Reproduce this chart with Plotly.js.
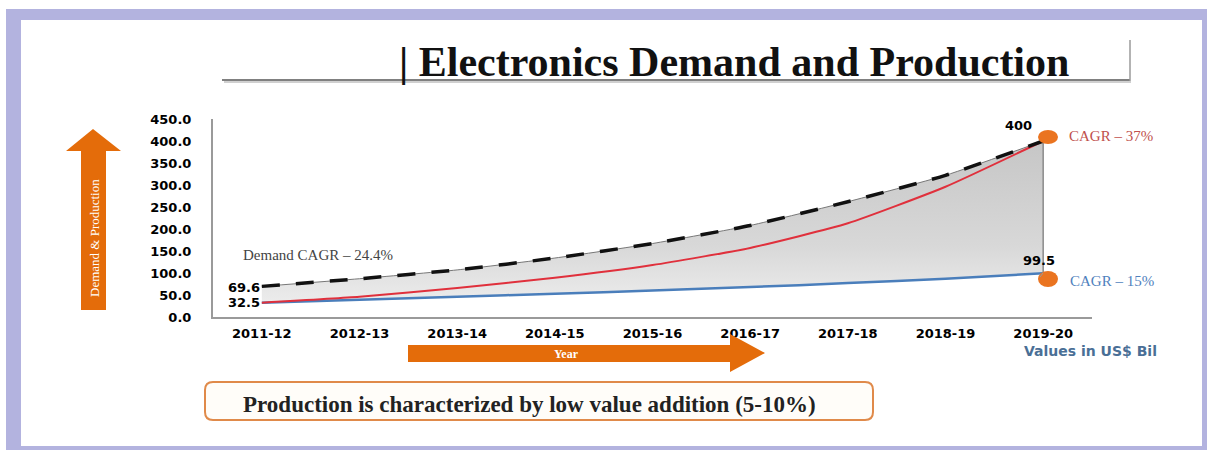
<!DOCTYPE html>
<html>
<head>
<meta charset="utf-8">
<script src="https://cdn.plot.ly/plotly-3.0.1.min.js"></script>
<style>
html,body{margin:0;padding:0;background:#ffffff;}
#chart{width:1207px;height:450px;}
</style>
</head>
<body>
<div id="chart"></div>
<script>
// ---- data (US$ Bil) ----
const years = ['2011-12','2012-13','2013-14','2014-15','2015-16','2016-17','2017-18','2018-19','2019-20'];
const demand = [69.6, 87, 107, 134, 167, 208, 262, 322, 400];
const production = [32.5, 39, 46, 53, 60, 68, 77, 87, 99.5];
const requiredProduction = [32.5, 46, 66, 89, 118, 157, 213, 296, 400];
const yTicks = [0, 50, 100, 150, 200, 250, 300, 350, 400, 450];

const titleText = '| Electronics Demand and Production';
const yAxisText = 'Demand &amp; Production';
const xAxisText = 'Year';
const unitText = 'Values in US$ Bil';
const noteText = 'Production is characterized by low value addition (5-10%)';
const demandCagrText = 'Demand CAGR \u2013 24.4%';
const highCagrText = 'CAGR \u2013 37%';
const lowCagrText = 'CAGR \u2013 15%';

// ---- layout helpers (pixel -> paper) ----
const L = 213, R = 1092, T = 119, B = 317;
const px = v => (v - L) / (R - L);
const py = v => (B - v) / (B - T);
const last = years.length - 1;

const orange = '#e46c0a';
const tickFont = {family: 'DejaVu Sans', size: 13, color: '#000000', weight: 'bold'};

const traces = [
  { // production
    x: years, y: production, type: 'scatter', mode: 'lines',
    line: {color: '#4a7ebb', width: 2.5, shape: 'spline', smoothing: 0.5},
    hoverinfo: 'skip'
  },
  { // demand fill + thin edge
    x: years, y: demand, type: 'scatter', mode: 'lines',
    fill: 'tonexty',
    fillgradient: {type: 'vertical', colorscale: [[0, '#ececec'], [0.35, '#d8d8d8'], [1, '#c6c6c6']]},
    line: {color: '#777777', width: 1, shape: 'spline', smoothing: 0.5},
    hoverinfo: 'skip'
  },
  { // right edge of the shaded area
    x: [years[last], years[last]], y: [production[last], demand[last]],
    type: 'scatter', mode: 'lines',
    line: {color: '#8a8a8a', width: 1.5}, hoverinfo: 'skip'
  },
  { // required production (red)
    x: years, y: requiredProduction, type: 'scatter', mode: 'lines',
    line: {color: '#e0303c', width: 2, shape: 'spline', smoothing: 0.5},
    hoverinfo: 'skip'
  },
  { // demand dashed
    x: years, y: demand, type: 'scatter', mode: 'lines',
    line: {color: '#111111', width: 3.5, dash: '18px,16px', shape: 'spline', smoothing: 0.5},
    hoverinfo: 'skip'
  }
];

function roundRect(x0, y0, x1, y1, r) {
  const X0 = px(x0), X1 = px(x1), Y0 = py(y0), Y1 = py(y1);
  const rx = r / (R - L), ry = r / (B - T);
  return `M ${X0 + rx},${Y0} L ${X1 - rx},${Y0} Q ${X1},${Y0} ${X1},${Y0 - ry} ` +
         `L ${X1},${Y1 + ry} Q ${X1},${Y1} ${X1 - rx},${Y1} L ${X0 + rx},${Y1} ` +
         `Q ${X0},${Y1} ${X0},${Y1 + ry} L ${X0},${Y0 - ry} Q ${X0},${Y0} ${X0 + rx},${Y0} Z`;
}

const shapes = [
  // lavender frame
  {type: 'rect', xref: 'paper', yref: 'paper', layer: 'below',
   x0: px(6), x1: px(1210), y0: py(9), y1: py(452), fillcolor: '#b3b3df', line: {width: 0}},
  {type: 'rect', xref: 'paper', yref: 'paper', layer: 'below',
   x0: px(21), x1: px(1202), y0: py(20), y1: py(446), fillcolor: '#ffffff', line: {width: 0}},
  // title rule
  {type: 'line', xref: 'paper', yref: 'paper', x0: px(224), x1: px(1131), y0: py(82), y1: py(82),
   line: {color: '#d0d0d0', width: 2}},
  {type: 'line', xref: 'paper', yref: 'paper', x0: px(222), x1: px(1130), y0: py(80), y1: py(80),
   line: {color: '#808080', width: 1.8}},
  {type: 'line', xref: 'paper', yref: 'paper', x0: px(1130), x1: px(1130), y0: py(40), y1: py(81),
   line: {color: '#9a9a9a', width: 1.5}},
  // vertical orange arrow
  {type: 'path', xref: 'paper', yref: 'paper', fillcolor: orange, line: {width: 0},
   path: `M ${px(81)},${py(310)} L ${px(81)},${py(151)} L ${px(66)},${py(151)} L ${px(93)},${py(129)} ` +
         `L ${px(121)},${py(151)} L ${px(106)},${py(151)} L ${px(106)},${py(310)} Z`},
  // horizontal orange arrow
  {type: 'path', xref: 'paper', yref: 'paper', fillcolor: orange, line: {width: 0},
   path: `M ${px(408)},${py(345)} L ${px(730)},${py(345)} L ${px(730)},${py(334)} L ${px(765)},${py(353)} ` +
         `L ${px(730)},${py(372)} L ${px(730)},${py(362)} L ${px(408)},${py(362)} Z`},
  // note box
  {type: 'path', xref: 'paper', yref: 'paper', fillcolor: '#fffdf9', line: {color: '#e08a4a', width: 2},
   path: roundRect(205, 382, 873, 420, 8)},
  // orange callout dots
  {type: 'circle', xref: 'paper', yref: 'paper', fillcolor: '#ea7420', line: {width: 0},
   x0: px(1038), x1: px(1058), y0: py(144), y1: py(130)},
  {type: 'circle', xref: 'paper', yref: 'paper', fillcolor: '#ea7420', line: {width: 0},
   x0: px(1038), x1: px(1058), y0: py(287), y1: py(271)},
  // connector from production end to its dot
  {type: 'line', xref: 'paper', yref: 'paper', x0: px(1043), x1: px(1040), y0: py(273), y1: py(277),
   line: {color: '#9a9a9a', width: 1}}
];

const ann = (x, y, text, font, extra) => Object.assign(
  {xref: 'paper', yref: 'paper', x: px(x), y: py(y), text: text, showarrow: false,
   xanchor: 'center', yanchor: 'middle', font: font}, extra || {});

const annotations = [
  ann(734, 62, titleText, {family: 'Liberation Serif', size: 42, color: '#111111', weight: 'bold'}),
  ann(94, 238, yAxisText, {family: 'Liberation Serif', size: 13, color: '#ffffff'}, {textangle: -90}),
  ann(566, 354, xAxisText, {family: 'Liberation Serif', size: 12, color: '#ffffff', weight: 'bold'}),
  ann(1090, 351, unitText, {family: 'DejaVu Sans', size: 14, color: '#4a6f96', weight: 'bold'}),
  ann(529, 404, noteText, {family: 'Liberation Serif', size: 23, color: '#222222', weight: 'bold'}),
  ann(318, 255, demandCagrText, {family: 'Liberation Serif', size: 15, color: '#444444'}),
  ann(1111, 136, highCagrText, {family: 'Liberation Serif', size: 15, color: '#c0504d'}),
  ann(1112, 281, lowCagrText, {family: 'Liberation Serif', size: 15, color: '#4f81bd'}),
  // value labels anchored on data
  {x: years[0], y: demand[0], xref: 'x', yref: 'y', text: demand[0].toFixed(1), showarrow: false,
   xanchor: 'right', yanchor: 'middle', xshift: 0, yshift: -1, font: tickFont},
  {x: years[0], y: production[0], xref: 'x', yref: 'y', text: production[0].toFixed(1), showarrow: false,
   xanchor: 'right', yanchor: 'middle', xshift: 0, yshift: 0, font: tickFont},
  {x: years[last], y: demand[last], xref: 'x', yref: 'y', text: String(demand[last]), showarrow: false,
   xanchor: 'center', yanchor: 'bottom', xshift: -25, yshift: 6, font: tickFont},
  {x: years[last], y: production[last], xref: 'x', yref: 'y', text: String(production[last]), showarrow: false,
   xanchor: 'center', yanchor: 'bottom', xshift: -4, yshift: 3, font: tickFont}
];

const layout = {
  width: 1207, height: 450,
  margin: {l: L, r: 1207 - R, t: T, b: 450 - B, pad: 0},
  paper_bgcolor: '#ffffff', plot_bgcolor: 'rgba(0,0,0,0)',
  showlegend: false,
  font: {family: 'DejaVu Sans'},
  xaxis: {
    type: 'category', categoryorder: 'array', categoryarray: years,
    range: [-0.5, years.length - 0.5],
    showgrid: false, zeroline: false,
    showline: true, linecolor: '#9a9a9a', linewidth: 2,
    ticks: 'outside', ticklen: 3, tickcolor: 'rgba(0,0,0,0)',
    tickfont: tickFont, fixedrange: true
  },
  yaxis: {
    range: [0, 450], tickvals: yTicks, ticktext: yTicks.map(v => v.toFixed(1)),
    showgrid: false, zeroline: false,
    showline: true, linecolor: '#9a9a9a', linewidth: 2,
    ticks: 'outside', ticklen: 17, tickcolor: 'rgba(0,0,0,0)',
    tickfont: tickFont, fixedrange: true
  },
  shapes: shapes,
  annotations: annotations
};

Plotly.newPlot('chart', traces, layout, {displayModeBar: false, staticPlot: true});
</script>
</body>
</html>
